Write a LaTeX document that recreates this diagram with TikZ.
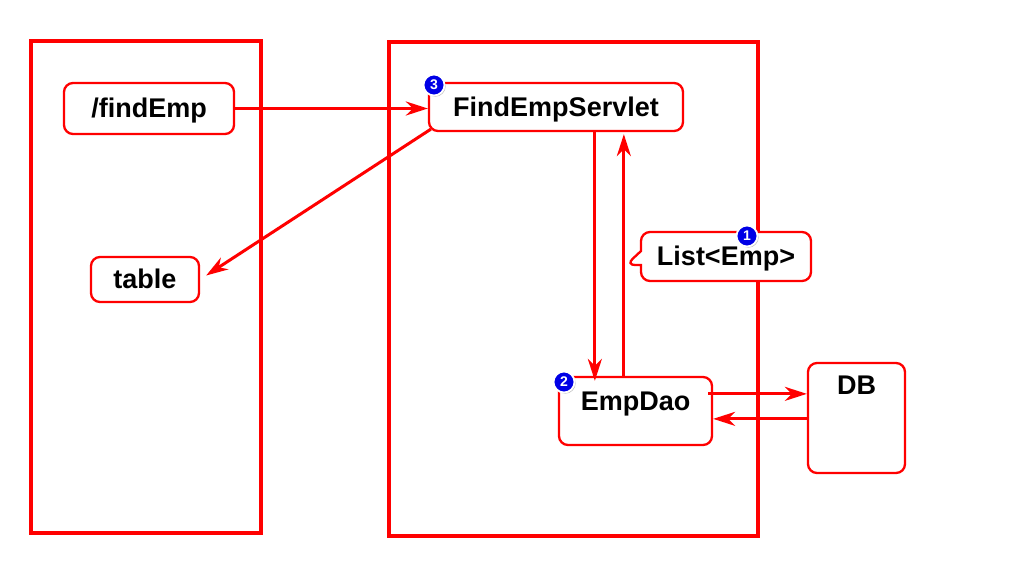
\documentclass[tikz,border=0pt]{standalone}
\usepackage{fontspec}
\setmainfont{Liberation Sans}
\usetikzlibrary{shapes.callouts,shadows,arrows.meta,calc}
\definecolor{rd}{RGB}{255,0,0}
\definecolor{bb}{RGB}{0,0,230}
\begin{document}
\begin{tikzpicture}[x=1pt,y=-1pt,
  bigbox/.style={draw=rd,line width=3.4pt},
  lbl/.style={font=\fontsize{27}{30}\selectfont\bfseries,text height=21pt,text depth=3pt},
  nbox/.style={draw=rd,line width=2.3pt,rounded corners=9pt,fill=white,lbl,inner sep=0pt},
  arr/.style={draw=rd,line width=3pt,-{Stealth[length=22pt,width=14pt,inset=7pt]}},
  badge/.style={circle,fill=bb,draw=white,line width=1.8pt,minimum size=21pt,inner sep=0pt,text=white,font=\fontsize{14}{15}\selectfont\bfseries,drop shadow={opacity=0.45,shadow xshift=1.2pt,shadow yshift=-1.2pt}}]
\useasboundingbox (0,0) rectangle (1024,568);
\fill[white] (0,0) rectangle (1024,568);
% big boxes
\draw[bigbox] (31,41) rectangle (261,533);
\draw[bigbox] (389,42) rectangle (758,536);
% nodes
\node[nbox,minimum width=170pt,minimum height=51pt] (find) at (149,108.5) {/findEmp};
\node[nbox,minimum width=108pt,minimum height=45pt] (table) at (145,279.5) {table};
\node[nbox,minimum width=254pt,minimum height=48pt] (servlet) at (556,107) {FindEmpServlet};
\node[rectangle callout,draw=rd,line width=2.3pt,rounded corners=9pt,fill=white,lbl,inner sep=0pt,minimum width=170pt,minimum height=49pt,callout absolute pointer={(626,265)},callout pointer width=14pt] (list) at (726,256.5) {List<Emp>};
\node[nbox,minimum width=153pt,minimum height=68pt,label={[anchor=north,lbl,yshift=-10pt]north:EmpDao}] (dao) at (635.5,411) {};
\node[nbox,minimum width=97pt,minimum height=110pt,label={[anchor=north,lbl,yshift=-8pt]north:DB}] (db) at (856.5,418) {};
% badges
\node[badge] (b3) at (434,85) {3};
\node[badge] (b1) at (747,236) {1};
\node[badge] (b2) at (564,382) {2};
% connectors
\draw[arr] (find.east) -- (find.east -| servlet.west);
\coordinate (s1) at ($(servlet.south west)+(3,-3)$);
\coordinate (t1) at ($(table.east)+(6,-4)$);
\draw[arr] (s1) -- (t1);
\coordinate (sd) at ($(servlet.south west)+(167,0)$);
\coordinate (dd) at ($(dao.north west)+(37,5)$);
\draw[arr] (sd) -- (dd);
\coordinate (du) at ($(dao.north west)+(66,2)$);
\coordinate (su) at ($(servlet.south west)+(196,2)$);
\draw[arr] (du) -- (su);
\coordinate (d1) at ($(dao.north east)+(-5,18)$);
\draw[arr] (d1) -- (d1 -| db.west);
\coordinate (d2) at ($(db.north west)+(2,57)$);
\draw[arr] (d2) -- (d2 -| dao.east);
\end{tikzpicture}
\end{document}
